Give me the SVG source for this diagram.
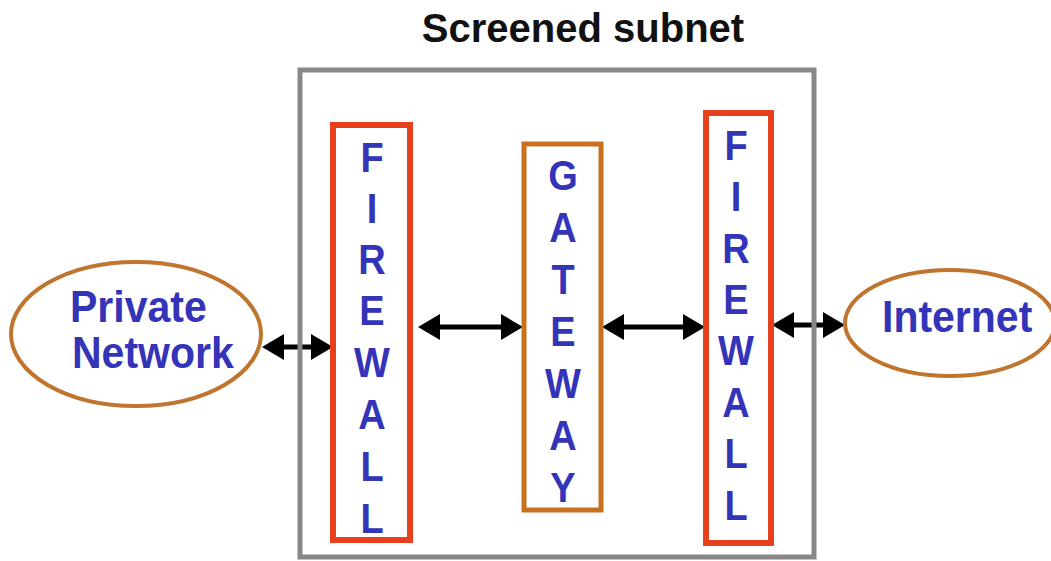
<svg xmlns="http://www.w3.org/2000/svg" width="1051" height="561" viewBox="0 0 1051 561">
<style>
.t{font-family:"Liberation Sans",Arial,sans-serif;font-weight:bold;fill:#3434b8}
.l{font-size:38px;text-anchor:middle}
.e{font-size:41px}
.title{font-family:"Liberation Sans",Arial,sans-serif;font-weight:bold;font-size:40px;fill:#111;text-anchor:middle}
.fw{fill:#fff;stroke:#e8401e;stroke-width:6}
.gw{fill:#fff;stroke:#c8701e;stroke-width:5}
.el{fill:#fff;stroke:#c0752e;stroke-width:4}
.ar{stroke:#000;stroke-width:5;fill:none;marker-start:url(#ah);marker-end:url(#ah)}
</style>
<defs>
<marker id="ah" markerUnits="userSpaceOnUse" markerWidth="24" markerHeight="26" refX="13" refY="13" orient="auto-start-reverse" viewBox="0 0 24 26">
<path d="M0,0 L22,13 L0,26 z" fill="#000"/>
</marker>
</defs>
<rect width="1051" height="561" fill="#fff"/>
<text class="title" x="583" y="42">Screened subnet</text>
<g id="connectors">
<line class="ar" x1="271" y1="347" x2="324" y2="347"/>
<line class="ar" x1="427" y1="327" x2="514" y2="327"/>
<line class="ar" x1="611" y1="327" x2="696" y2="327"/>
<line class="ar" x1="781" y1="325" x2="836" y2="325"/>
</g>
<g id="subnet"><rect x="300" y="70" width="514" height="487" fill="none" stroke="#878787" stroke-width="5"/></g>
<g id="private-network">
<ellipse class="el" cx="136" cy="334" rx="125" ry="72"/>
<text class="t e" transform="translate(70,322) scale(1,1.1)">Private</text>
<text class="t e" transform="translate(72,368) scale(1,1.1)">Network</text>
</g>
<g id="internet">
<ellipse class="el" cx="950" cy="323" rx="105" ry="53"/>
<text class="t e" transform="translate(882,332) scale(1,1.1)">Internet</text>
</g>
<g id="firewall-left">
<rect class="fw" x="333" y="125" width="77" height="415"/>
<text class="t l" transform="translate(372,172) scale(1,1.1)">F</text>
<text class="t l" transform="translate(372,223) scale(1,1.1)">I</text>
<text class="t l" transform="translate(372,274) scale(1,1.1)">R</text>
<text class="t l" transform="translate(372,325) scale(1,1.1)">E</text>
<text class="t l" transform="translate(372,377) scale(1,1.1)">W</text>
<text class="t l" transform="translate(372,429) scale(1,1.1)">A</text>
<text class="t l" transform="translate(372,481) scale(1,1.1)">L</text>
<text class="t l" transform="translate(372,533) scale(1,1.1)">L</text>
</g>
<g id="gateway">
<rect class="gw" x="524" y="144" width="77" height="366"/>
<text class="t l" transform="translate(563,190) scale(1,1.1)">G</text>
<text class="t l" transform="translate(563,242) scale(1,1.1)">A</text>
<text class="t l" transform="translate(563,294) scale(1,1.1)">T</text>
<text class="t l" transform="translate(563,346) scale(1,1.1)">E</text>
<text class="t l" transform="translate(563,398) scale(1,1.1)">W</text>
<text class="t l" transform="translate(563,450) scale(1,1.1)">A</text>
<text class="t l" transform="translate(563,502) scale(1,1.1)">Y</text>
</g>
<g id="firewall-right">
<rect class="fw" x="706" y="113" width="65" height="430"/>
<text class="t l" transform="translate(736,160) scale(1,1.1)">F</text>
<text class="t l" transform="translate(736,211) scale(1,1.1)">I</text>
<text class="t l" transform="translate(736,263) scale(1,1.1)">R</text>
<text class="t l" transform="translate(736,314) scale(1,1.1)">E</text>
<text class="t l" transform="translate(736,365) scale(1,1.1)">W</text>
<text class="t l" transform="translate(736,417) scale(1,1.1)">A</text>
<text class="t l" transform="translate(736,468) scale(1,1.1)">L</text>
<text class="t l" transform="translate(736,520) scale(1,1.1)">L</text>
</g>
</svg>
